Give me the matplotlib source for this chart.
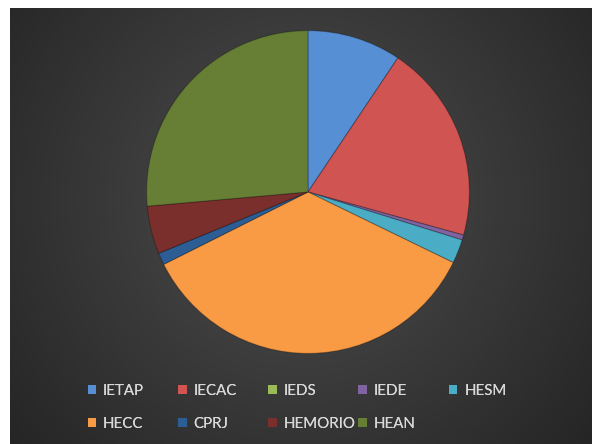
import numpy as np
import matplotlib
matplotlib.use('Agg')
import matplotlib.pyplot as plt
from matplotlib.patches import Patch

# Share of each unit (in %)
labels = ['IETAP', 'IECAC', 'IEDS', 'IEDE', 'HESM', 'HECC', 'CPRJ', 'HEMORIO', 'HEAN']
values = [9.4, 19.9, 0.0, 0.5, 2.4, 35.4, 1.2, 4.8, 26.4]
colors = ['#568fd3', '#d05452', '#9bbb59', '#8064a2', '#4bacc6',
          '#f99b45', '#2c5d95', '#7b2f2d', '#667f35']

W, H = 592, 444
fig = plt.figure(figsize=(W / 100, H / 100), dpi=100, facecolor='white')

# dark panel with a radial gradient, white margin on top/left
bg = fig.add_axes([10 / W, 0, (W - 10) / W, (H - 8) / H])
bg.set_axis_off()
yy, xx = np.mgrid[0:H - 8, 0:W - 10]
d = np.hypot(xx - 290, yy - 192)
shade = np.clip(78 - 0.108 * d, 36, 90) / 255.0
bg.imshow(np.dstack([shade, shade, shade]), aspect='auto', interpolation='bilinear')

# the pie
cx, cy, r = 308, 192, 163
ax = fig.add_axes([(cx - r) / W, (H - cy - r) / H, 2 * r / W, 2 * r / H])
wedges, _ = ax.pie(values, colors=colors, startangle=90, counterclock=False,
                   radius=1.0, wedgeprops=dict(edgecolor=(0, 0, 0, 0.25), linewidth=0.8))
for w, v in zip(wedges, values):
    if v == 0:
        w.set_linewidth(0)
ax.set_xlim(-1.01, 1.01)
ax.set_ylim(-1.01, 1.01)
ax.set_axis_off()

# legend: 5 equally spaced columns, 2 rows
font = ['Lato', 'DejaVu Sans']
handles = [Patch(facecolor=c, edgecolor='none') for c in colors]
x0, dx = 87.5, 90.3
for j in range(5):
    idx = [i for i in (j, j + 5) if i < len(labels)]
    leg = fig.legend([handles[i] for i in idx], [labels[i] for i in idx],
                     loc='upper left', bbox_to_anchor=((x0 + j * dx) / W, (H - 384) / H),
                     frameon=False, borderpad=0, borderaxespad=0,
                     handlelength=0.58, handleheight=0.58, handletextpad=0.45,
                     labelspacing=1.25, prop={'family': font, 'size': 10.8},
                     labelcolor='#d9d9d9')
    fig.add_artist(leg)

fig.savefig('out.png', dpi=100, facecolor='white')
